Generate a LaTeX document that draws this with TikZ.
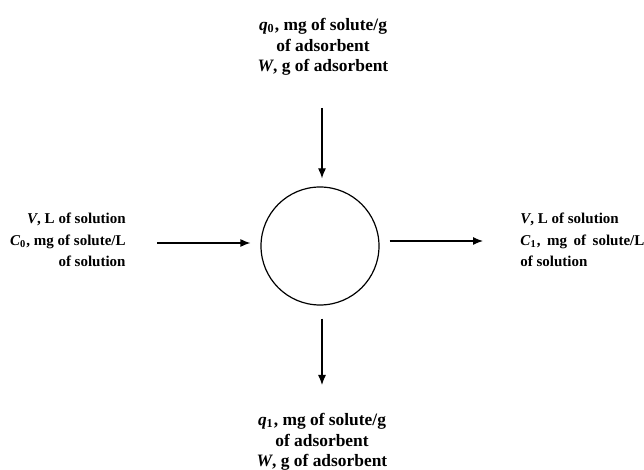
\documentclass[tikz,border=0pt]{standalone}
\usepackage{fontspec}
\setmainfont{Liberation Serif}
\usetikzlibrary{arrows.meta}
\tikzset{flow/.style={-{Latex[length=5bp,width=4bp]},line width=0.6bp},
  lbl/.style={font=\fontsize{8.7bp}{10.3bp}\selectfont\bfseries,inner sep=0pt},
  sidelbl/.style={font=\fontsize{7.5bp}{10.8bp}\selectfont\bfseries,inner sep=0pt}}
\begin{document}
\begin{tikzpicture}[x=0.5bp,y=-0.5bp]
\useasboundingbox (0,0) rectangle (644,470);
\node [draw, circle, minimum size=59bp, line width=0.6bp, inner sep=0pt] (tank) at (320,246) {};
\node [lbl, align=center] (solidin) at (323,47) {\textit{q}\textsubscript{0}, mg of solute/g\\of adsorbent\\\textit{W}, g of adsorbent};
\node [sidelbl, align=right, anchor=east] (liquidin) at (126,240) {\textit{V}, L of solution\\\textit{C}\textsubscript{0}, mg of solute/L\\of solution};
\node [sidelbl, align=left, anchor=west] (liquidout) at (520,240) {\textit{V}, L of solution\\\textit{C}\textsubscript{1},\hspace{1.4bp} mg\hspace{1.4bp} of\hspace{1.4bp} solute/L\\of solution};
\node [lbl, align=center] (solidout) at (322,442) {\textit{q}\textsubscript{1}, mg of solute/g\\of adsorbent\\\textit{W}, g of adsorbent};
\coordinate (topstart) at (322,108); \draw [flow, shorten >=4bp] (topstart) -- (topstart |- tank.north);
\coordinate (leftstart) at (157,243); \draw [flow, shorten >=5bp] (leftstart) -- (leftstart -| tank.west);
\coordinate (rightend) at (483,241); \draw [flow, shorten <=5bp] (tank.east |- rightend) -- (rightend);
\coordinate (botend) at (322,385); \draw [flow, shorten <=6.5bp] (tank.south -| botend) -- (botend);
\end{tikzpicture}
\end{document}
